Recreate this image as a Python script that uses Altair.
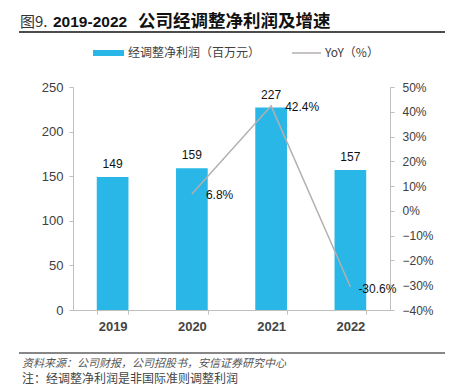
import altair as alt
import pandas as pd

years = ["2019", "2020", "2021", "2022"]
profit = [149, 159, 227, 157]
yoy = [None, 6.8, 42.4, -30.6]

left_ticks = [0, 50, 100, 150, 200, 250]
right_ticks = [-0.4, -0.3, -0.2, -0.1, 0.0, 0.1, 0.2, 0.3, 0.4, 0.5]

title_prefix = "图9."
title_years = "2019-2022"
title_main = "公司经调整净利润及增速"
legend_bar = "经调整净利润（百万元）"
legend_line = "YoY（%）"
source_text = "资料来源：公司财报，公司招股书，安信证券研究中心"
note_text = "注：经调整净利润是非国际准则调整利润"

BAR = "#29B7E7"
LINE = "#B5AFAF"
NUM_FONT = "Liberation Sans"
CJK_FONT = "Noto Sans CJK SC"

df = pd.DataFrame({"year": years, "profit": profit, "yoy": yoy})

xenc = alt.X(
    "year:N",
    sort=years,
    scale=alt.Scale(paddingInner=0.6, paddingOuter=0.3),
    axis=alt.Axis(
        title=None, labelAngle=0, tickBand="extent", tickSize=4,
        labelPadding=6, labelFontSize=13, labelFontWeight="bold",
        labelColor="#444444", labelFont=NUM_FONT,
    ),
)

base = alt.Chart(df)

yl = alt.Y(
    "profit:Q",
    scale=alt.Scale(domain=[0, 250], nice=False),
    axis=alt.Axis(
        title=None, values=left_ticks, orient="left", tickSize=4,
        labelPadding=6, labelFontSize=13, labelColor="#404040",
        labelFont=NUM_FONT, labelOverlap=False,
    ),
)
bars = base.mark_bar(color=BAR).encode(x=xenc, y=yl)
bar_text = base.mark_text(
    baseline="bottom", dy=-6, fontSize=12, font=NUM_FONT, color="#111111"
).encode(x=xenc, y=yl, text="profit:Q")

left = alt.layer(bars, bar_text)

line_base = base.transform_filter("datum.yoy != null").transform_calculate(
    f="datum.yoy / 100", lbl="datum.yoy + '%'"
)
yr = alt.Y(
    "f:Q",
    scale=alt.Scale(domain=[-0.4, 0.5], nice=False),
    axis=alt.Axis(
        title=None, values=right_ticks, format=".0%", orient="right",
        tickSize=4, labelPadding=8, labelFontSize=12, labelColor="#404040",
        labelFont=NUM_FONT, labelOverlap=False,
    ),
)
line = line_base.mark_line(color=LINE, strokeWidth=1.5).encode(x=xenc, y=yr)
line_text1 = line_base.transform_filter("datum.year != '2022'").mark_text(
    align="left", baseline="middle", dx=14, dy=1, fontSize=12, font=NUM_FONT,
    color="#111111",
).encode(x=xenc, y=yr, text="lbl:N")
line_text2 = line_base.transform_filter("datum.year == '2022'").mark_text(
    align="left", baseline="middle", dx=8, dy=2, fontSize=12, font=NUM_FONT,
    color="#111111",
).encode(x=xenc, y=yr, text="lbl:N")

right = alt.layer(line, line_text1, line_text2)

one = pd.DataFrame({"a": [0]})


def label(txt, x, y, size, font, weight="normal", color="#222222", style="normal"):
    return alt.Chart(one).mark_text(
        text=txt, align="left", baseline="middle", fontSize=size, font=font,
        fontWeight=weight, color=color, fontStyle=style,
    ).encode(x=alt.value(x), y=alt.value(y))


annotations = [
    label(title_prefix, -53, -65, 15, CJK_FONT, color="#333333"),
    label(title_years, -20, -65, 15.5, NUM_FONT, weight="bold", color="#111111"),
    label(title_main, 65, -65, 17.5, CJK_FONT, weight="bold", color="#111111"),
    alt.Chart(one).mark_rule(color="#111111", strokeWidth=1.5).encode(
        x=alt.value(-54), x2=alt.value(375), y=alt.value(-55)
    ),
    alt.Chart(one).mark_rect(color=BAR).encode(
        x=alt.value(20), x2=alt.value(51), y=alt.value(-37), y2=alt.value(-31)
    ),
    label(legend_bar, 55, -34, 12, CJK_FONT, color="#404040"),
    alt.Chart(one).mark_rule(color=LINE, strokeWidth=1.5).encode(
        x=alt.value(219), x2=alt.value(248), y=alt.value(-34)
    ),
    label(legend_line, 252, -34, 12, CJK_FONT, color="#404040"),
    alt.Chart(one).mark_rule(color="#111111", strokeWidth=1.2).encode(
        x=alt.value(-54), x2=alt.value(375), y=alt.value(266)
    ),
    label(source_text, -51, 277, 11, CJK_FONT, color="#555555", style="italic"),
    label(note_text, -51, 292, 12, CJK_FONT, color="#444444"),
]

chart = (
    alt.layer(left, right, *annotations)
    .resolve_scale(y="independent")
    .properties(
        width=317, height=223,
        padding={"left": 65, "top": 79, "right": 55, "bottom": 76},
        autosize=alt.AutoSizeParams(type="none"),
    )
    .configure_view(stroke=None)
    .configure_axis(grid=False, domainColor="#BFBFBF", tickColor="#BFBFBF")
)

chart.save("out.html", embed_options={"renderer": "svg", "actions": False})
